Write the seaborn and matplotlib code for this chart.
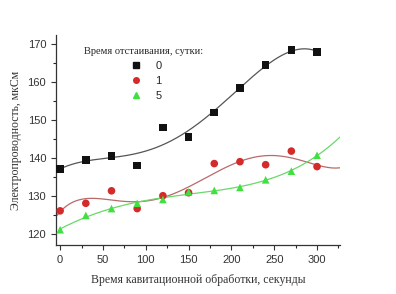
import numpy as np
import pandas as pd
import matplotlib
matplotlib.use("Agg")
import matplotlib.pyplot as plt
from matplotlib.lines import Line2D
from matplotlib.ticker import MultipleLocator
import seaborn as sns

# Данные: время кавитационной обработки, с
t = [0, 30, 60, 90, 120, 150, 180, 210, 240, 270, 300]
# Электропроводность для разного времени отстаивания (сутки)
day0 = [137.0, 139.5, 140.5, 138.0, 148.0, 145.5, 152.0, 158.5, 164.5, 168.5, 168.0]
day1 = [126.0, 128.0, 131.3, 126.6, 130.0, 130.8, 138.5, 139.0, 138.2, 141.8, 137.7]
day5 = [121.0, 124.8, 126.6, 128.0, 129.0, 131.0, 131.4, 132.2, 134.2, 136.5, 140.7]
groups = ["0", "1", "5"]

sns.set_style("ticks")
plt.rcParams["font.family"] = ["Liberation Serif", "DejaVu Serif"]

df = pd.DataFrame({
    "t": t * 3,
    "y": day0 + day1 + day5,
    "g": ["0"] * len(t) + ["1"] * len(t) + ["5"] * len(t),
})

pt_col = {"0": "#111111", "1": "#d42a2a", "5": "#3fe03f"}
ln_col = {"0": "#555555", "1": "#b86a6a", "5": "#6ad86a"}
markers = {"0": "s", "1": "o", "5": "^"}
deg = {"0": 4, "1": 5, "5": 4}
span = {"0": (0, 300), "1": (-5, 327), "5": (0, 327)}

fig = plt.figure(figsize=(3.96, 2.94), dpi=100)
ax = fig.add_axes([0.141, 0.167, 0.718, 0.714])

# сглаживающие кривые (полиномиальная аппроксимация)
for g in groups:
    sub = df[df.g == g]
    c = np.polyfit(sub.t, sub.y, deg[g])
    xs = np.linspace(span[g][0], span[g][1], 200)
    sns.lineplot(x=xs, y=np.polyval(c, xs), ax=ax, color=ln_col[g], lw=0.9)

sns.scatterplot(data=df, x="t", y="y", hue="g", style="g", palette=pt_col,
                markers=markers, s=30, edgecolor="none", legend=False, ax=ax, zorder=3)

ax.set_xlim(-5, 327)
ax.set_ylim(117, 172.5)
ax.set_xticks([0, 50, 100, 150, 200, 250, 300])
ax.set_yticks([120, 130, 140, 150, 160, 170])
ax.xaxis.set_minor_locator(MultipleLocator(25))
ax.yaxis.set_minor_locator(MultipleLocator(5))
ax.tick_params(which="major", length=3.5, width=0.8, labelsize=8, colors="#333333")
ax.tick_params(which="minor", length=2, width=0.8)
for lab in ax.get_xticklabels() + ax.get_yticklabels():
    lab.set_family(["Liberation Sans", "DejaVu Sans"])
sns.despine(ax=ax)
for s in ["left", "bottom"]:
    ax.spines[s].set_linewidth(0.9)
    ax.spines[s].set_color("#333333")

ax.set_xlabel("Время кавитационной обработки, секунды", fontsize=8.5, color="#333333", labelpad=7)
ax.set_ylabel("Электропроводность, мкСм", fontsize=8.5, color="#333333", labelpad=4)

handles = [Line2D([], [], ls="none", marker=markers[g], color=pt_col[g], markersize=4) for g in groups]
leg = ax.legend(handles, groups, title="Время отстаивания, сутки:", loc="upper left",
                bbox_to_anchor=(0.07, 0.98), frameon=False, fontsize=8, title_fontsize=7.5,
                handletextpad=0.8, labelspacing=0.45, borderpad=0.2)
for txt in leg.get_texts():
    txt.set_family(["Liberation Sans", "DejaVu Sans"])

fig.savefig("out.png", dpi=100)
